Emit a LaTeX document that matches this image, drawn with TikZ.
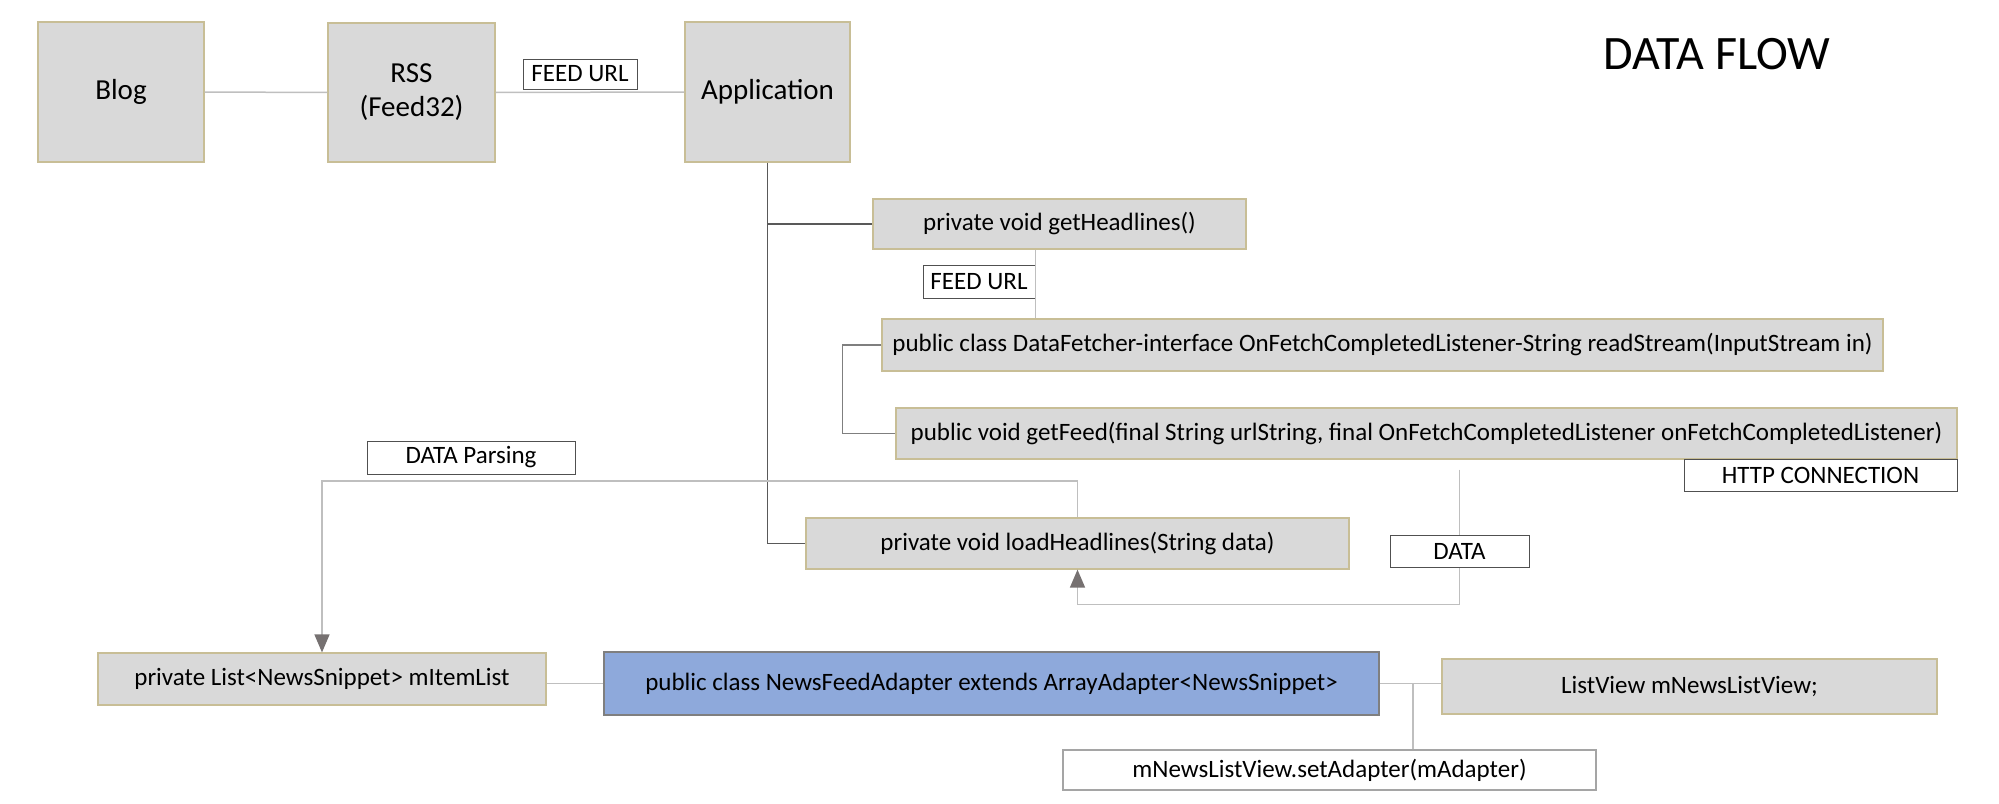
\documentclass[tikz,border=0pt]{standalone}
\usepackage{fontspec}
\setmainfont{Carlito}
\usetikzlibrary{arrows.meta,calc}
\definecolor{boxgray}{RGB}{217,217,217}
\definecolor{tanline}{RGB}{200,190,150}
\definecolor{adblue}{RGB}{142,169,219}
\definecolor{darkline}{RGB}{89,89,89}
\definecolor{midline}{RGB}{127,127,127}
\definecolor{lightline}{RGB}{191,191,191}
\definecolor{arrowc}{RGB}{118,113,113}
\definecolor{lblgray}{RGB}{80,80,80}
\tikzset{
  gbox/.style={fill=boxgray, draw=tanline, line width=1.2pt, inner sep=0pt, font=\fontsize{25}{30}\selectfont},
  bigbox/.style={gbox, font=\fontsize{29}{34}\selectfont, align=center},
  lbl/.style={fill=white, draw=lblgray, line width=1pt, inner sep=0pt, font=\fontsize{25}{30}\selectfont},
  bluebox/.style={fill=adblue, draw=midline, line width=1.5pt, inner sep=0pt, font=\fontsize{25}{30}\selectfont},
  wbox/.style={fill=white, draw=midline!70, line width=1.5pt, inner sep=0pt, font=\fontsize{25}{30}\selectfont},
  darkconn/.style={draw=darkline, line width=1.8pt},
  midconn/.style={draw=midline, line width=1.5pt},
  lightconn/.style={draw=lightline, line width=1.5pt},
  tip/.style={-{Triangle[length=18pt,width=15pt,color=arrowc]}}
}
\begin{document}
\begin{tikzpicture}[x=1pt,y=-1pt]
\useasboundingbox (0,0) rectangle (1999,803);
% top row
\node[bigbox, minimum width=166pt, minimum height=140pt] (blog) at (121,92) {Blog};
\node[bigbox, minimum width=167pt, minimum height=139pt] (rss) at (411.5,92.5) {RSS\\(Feed32)};
\node[bigbox, minimum width=165pt, minimum height=140pt] (app) at (767.5,92) {Application};
\node[lbl, minimum width=114pt, minimum height=30pt] (fu1) at (580,74) {FEED URL};
\node[font=\fontsize{48}{54}\selectfont, inner sep=0pt] (title) at (1717,54) {DATA FLOW};
% middle
\node[gbox, minimum width=373pt, minimum height=50pt] (gh) at (1059.5,224) {private void getHeadlines()};
\node[lbl, minimum width=112pt, minimum height=33pt] (fu2) at (979,281.5) {FEED URL};
\node[gbox, minimum width=1001pt, minimum height=52pt] (df) at (1382.5,345) {public class DataFetcher-interface OnFetchCompletedListener-String readStream(InputStream in)};
\node[gbox, minimum width=1061pt, minimum height=51pt] (gf) at (1426.5,433.5) {public void getFeed(final String urlString, final OnFetchCompletedListener onFetchCompletedListener)};
\node[lbl, minimum width=273pt, minimum height=32pt] (http) at (1820.5,475) {HTTP CONNECTION};
\node[gbox, minimum width=543pt, minimum height=51pt] (load) at (1077.5,543.5) {private void loadHeadlines(String data)};
\node[lbl, minimum width=208pt, minimum height=33pt] (parse) at (471,457.5) {DATA Parsing};
% bottom
\node[gbox, minimum width=448pt, minimum height=52pt] (items) at (322,679) {private List<NewsSnippet> mItemList};
\node[bluebox, minimum width=775pt, minimum height=63pt] (adapter) at (991.5,683.5) {public class NewsFeedAdapter extends ArrayAdapter<NewsSnippet>};
\node[gbox, minimum width=495pt, minimum height=55pt] (lv) at (1689.5,686.5) {ListView mNewsListView;};
\node[wbox, minimum width=533pt, minimum height=40pt] (sa) at (1329.5,770) {mNewsListView.setAdapter(mAdapter)};
% connectors
\draw[lightconn] (blog.east) -- (rss.west);
\draw[lightconn] (rss.east) -- (app.west);
\draw[darkconn] (app.south) -- (app.south |- load.west) -- (load.west);
\draw[darkconn] (app.south |- gh.west) -- (gh.west);
\draw[lightconn] (fu2.east |- gh.south) -- (fu2.east |- df.north);
\draw[midconn] (df.west) -- ++(-39,0) |- (gf.west);
\coordinate (pc) at (0,481);
\draw[lightconn, tip] (load.north) -- (load.north |- pc) -| (items.north);
\coordinate (dstart) at ($(gf.south)+(33,10)$);
\coordinate (dlow) at ($(dstart)+(0,135)$);
\draw[lightconn, tip] (dstart) -- (dlow) -| (load.south);
\node[lbl, minimum width=139pt, minimum height=32pt] (data) at (dstart |- 0,551) {DATA};
\draw[lightconn] (adapter.west -| items.east) -- (adapter.west);
\draw[lightconn] (adapter.east) -- (adapter.east -| lv.west);
\coordinate (sj) at ($(adapter.east)+(33,0)$);
\draw[lightconn] (sj) -- (sj |- sa.north);
\end{tikzpicture}
\end{document}
